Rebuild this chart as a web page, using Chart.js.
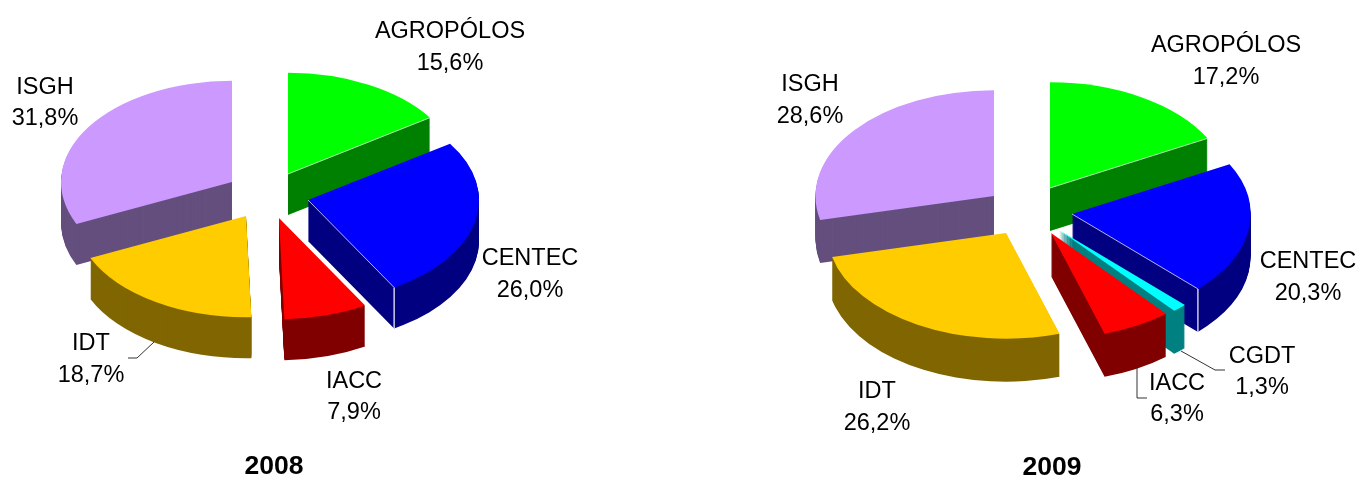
<!DOCTYPE html>
<html>
<head>
<meta charset="utf-8">
<title>2008 / 2009</title>
<script src="https://cdn.jsdelivr.net/npm/chart.js@4/dist/chart.umd.min.js"></script>
<style>
    html, body { margin: 0; padding: 0; background: #fff; overflow: hidden; }
    #wrap { position: relative; width: 1358px; height: 478px; }
    canvas { position: absolute; top: 0; }
</style>
</head>
<body>
<div id="wrap"></div>
<script>
// 0. Data
const categories2008 = ["AGROPÓLOS", "CENTEC", "IACC", "IDT", "ISGH"];
const values2008 = [15.6, 26.0, 7.9, 18.7, 31.8];
const labels2008 = ["15,6%", "26,0%", "7,9%", "18,7%", "31,8%"];

const categories2009 = ["AGROPÓLOS", "CENTEC", "CGDT", "IACC", "IDT", "ISGH"];
const values2009 = [17.2, 20.3, 1.3, 6.3, 26.2, 28.6];
const labels2009 = ["17,2%", "20,3%", "1,3%", "6,3%", "26,2%", "28,6%"];

// 1. Colours per institution, top face and side wall
const topColors = {AGROPÓLOS: "#00ff00", CENTEC: "#0000ff", CGDT: "#00ffff", IACC: "#ff0000", IDT: "#ffcc00", ISGH: "#cc99ff"};
const sideColors = {AGROPÓLOS: "#008000", CENTEC: "#000080", CGDT: "#008080", IACC: "#800000", IDT: "#806600", ISGH: "#644f7e"};

const SQUASH = 0.592;
const FONT = '23.5px "Liberation Sans"';
const TITLE_FONT = 'bold 26.5px "Liberation Sans"';

// Tilted pie: each slice is pulled out on its own, then stacked downwards for the wall
const tiltedPie = {
    id: "tiltedPie",
    beforeDatasetsDraw(chart, args, opts) {
        const ctx = chart.ctx;
        const arcs = chart.getDatasetMeta(0).data.map((arc, i) => {
            return {arc, i, mid: (arc.startAngle + arc.endAngle) / 2};
        });

        // back slices first
        arcs.sort((a, b) => Math.sin(a.mid) - Math.sin(b.mid));

        arcs.forEach(({arc, i}) => {
            const name = chart.data.labels[i];
            const cx = arc.x + opts.pull[i][0];
            const cy = arc.y + opts.pull[i][1];

            ctx.fillStyle = sideColors[name];
            for (let z = opts.depth; z > 0; z--) {
                ctx.save();
                ctx.translate(cx, cy + z);
                ctx.scale(1, SQUASH);
                ctx.beginPath();
                ctx.moveTo(0, 0);
                ctx.arc(0, 0, arc.outerRadius, arc.startAngle, arc.endAngle);
                ctx.closePath();
                ctx.fill();
                ctx.restore();
            }

            ctx.save();
            ctx.translate(cx, cy);
            ctx.scale(1, SQUASH);
            ctx.translate(-arc.x, -arc.y);
            arc.draw(ctx);
            ctx.restore();

            // thin white edges where the top face meets the wall
            if (name === "CENTEC" || name === "AGROPÓLOS") {
                const ex = cx + Math.cos(arc.endAngle) * arc.outerRadius;
                const ey = cy + Math.sin(arc.endAngle) * arc.outerRadius * SQUASH;
                ctx.strokeStyle = "#ffffff";
                ctx.lineWidth = 0.7;
                ctx.beginPath();
                ctx.moveTo(cx, cy);
                ctx.lineTo(ex, ey);
                ctx.stroke();
                if (name === "CENTEC") {
                    ctx.lineWidth = 1.2;
                    ctx.beginPath();
                    ctx.moveTo(ex, ey);
                    ctx.lineTo(ex, ey + opts.depth);
                    ctx.stroke();
                }
            }
        });
        return false;
    },
    afterDraw(chart, args, opts) {
        const ctx = chart.ctx;
        ctx.textAlign = "center";
        ctx.textBaseline = "alphabetic";
        ctx.fillStyle = "#000000";
        ctx.font = FONT;
        chart.data.labels.forEach((name, i) => {
            const [x, y1, y2] = opts.labelAt[i];
            ctx.fillText(name, x, y1);
            ctx.fillText(opts.valueLabels[i], x, y2);
        });

        ctx.strokeStyle = "#333333";
        ctx.lineWidth = 1;
        opts.leaders.forEach(points => {
            ctx.beginPath();
            points.forEach(([x, y], n) => n ? ctx.lineTo(x, y) : ctx.moveTo(x, y));
            ctx.stroke();
        });

        ctx.font = TITLE_FONT;
        ctx.fillText(opts.title[0], opts.title[1], opts.title[2]);
    }
};

function addPie(left, width, categories, values, settings) {
    const canvas = Object.assign(document.createElement("canvas"), {width: width, height: 478});
    canvas.style.left = left + "px";
    document.getElementById("wrap").appendChild(canvas);

    return new Chart(canvas.getContext("2d"), {
        type: "pie",
        data: {
            labels: categories,
            datasets: [{
                data: values,
                backgroundColor: categories.map(name => topColors[name]),
                borderWidth: 0
            }]
        },
        options: {
            responsive: false,
            animation: false,
            radius: settings.radius,
            layout: {padding: settings.padding},
            events: [],
            plugins: {
                legend: {display: false},
                tooltip: {enabled: false},
                tiltedPie: settings
            }
        },
        plugins: [tiltedPie]
    });
}

// 2. 2008
addPie(0, 680, categories2008, values2008, {
    radius: 171,
    padding: {left: 0, right: 150, top: 0, bottom: 88},
    depth: 41,
    pull: [[23, -21], [43, 5], [14, 23], [-19, 21], [-33, -13]],
    valueLabels: labels2008,
    labelAt: [[450, 38, 70], [530, 265, 297], [354, 388, 419], [91, 350, 382], [45, 94, 125]],
    leaders: [[[128, 358], [137, 358], [154, 342]]],
    title: ["2008", 274, 474]
});

// 3. 2009
addPie(680, 678, categories2009, values2009, {
    radius: 178.5,
    padding: {left: 12, right: 0, top: 0, bottom: 56},
    depth: 43,
    pull: [[25, -23], [47, 3], [34, 19], [26, 22], [-19, 22], [-31, -15]],
    valueLabels: labels2009,
    labelAt: [[546, 52, 84], [628, 268, 300], [582, 363, 394], [497, 390, 421], [197, 398, 430], [130, 91, 123]],
    leaders: [[[545, 370], [535, 370], [501, 351]], [[467, 398], [457, 398], [457, 368]]],
    title: ["2009", 372, 475]
});
</script>
</body>
</html>
